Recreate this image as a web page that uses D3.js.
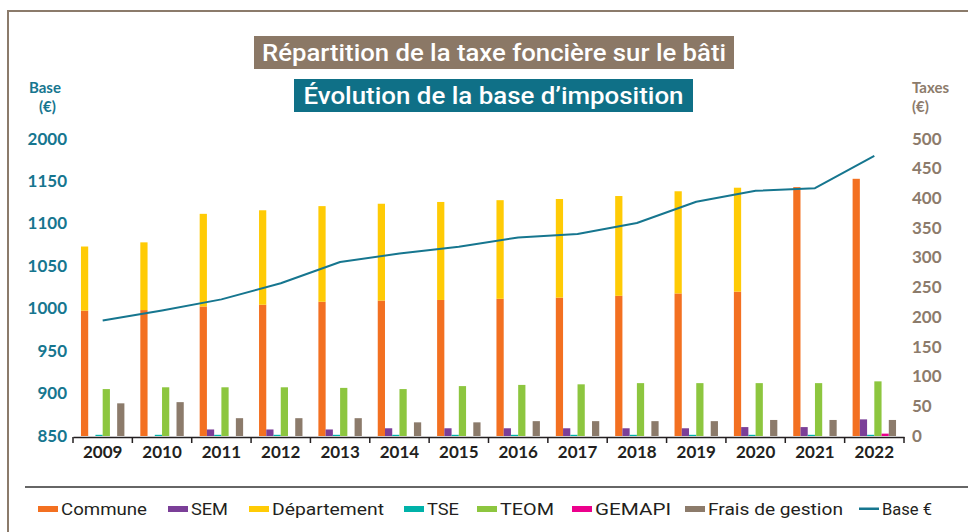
<!DOCTYPE html>
<html>
<head>
<meta charset="utf-8">
<script src="https://cdn.jsdelivr.net/npm/d3@7"></script>
<style>
  body { margin: 0; background: #fff; }
  svg { display: block; }
</style>
</head>
<body>
<script>
const W = 968, H = 532;

// data
const years = ['2009','2010','2011','2012','2013','2014','2015','2016','2017','2018','2019','2020','2021','2022'];
const commune     = [211, 212, 218, 221, 226, 228, 229, 231, 233, 236, 240, 243, 419, 433];
const departement = [108, 114, 156, 159, 161, 163, 165, 166, 166, 168, 172, 175, 0, 0];
const sem         = [0, 0, 11, 11, 11, 13, 13, 13, 13, 13, 13, 15, 15, 28];
const tse         = [2, 2, 2, 2, 2, 2, 2, 2, 2, 2, 2, 2, 2, 2];
const teom        = [79, 82, 82, 82, 81, 79, 84, 86, 87, 89, 89, 89, 89, 92];
const gemapi      = [0, 0, 0, 0, 0, 0, 0, 0, 0, 0, 0, 0, 0, 4];
const frais       = [55, 57, 30, 30, 30, 23, 23, 25, 25, 25, 25, 27, 27, 27];
const base        = [986, 998, 1011, 1030, 1055, 1065, 1073, 1084, 1088, 1101, 1126, 1139, 1142, 1180];

const baseTicks = [850, 900, 950, 1000, 1050, 1100, 1150, 1200];
const baseTickLabels = ['850','900','950','1000','1050','1100','1150','2000'];
const taxTicks = [0, 50, 100, 150, 200, 250, 300, 350, 400, 450, 500];

const legendItems = [
  {name: 'Commune', color: '#f37021'},
  {name: 'SEM', color: '#7b3f98'},
  {name: 'Département', color: '#ffcb05'},
  {name: 'TSE', color: '#00b2a9'},
  {name: 'TEOM', color: '#8dc63f'},
  {name: 'GEMAPI', color: '#ec008c'},
  {name: 'Frais de gestion', color: '#8c7b6b'},
  {name: 'Base €', color: '#16768f', line: true}
];
const col = {};
legendItems.forEach(d => col[d.name] = d.color);

const svg = d3.select('body').append('svg').attr('width', W).attr('height', H);

// frame
svg.append('path')
  .attr('d', `M8,${H} V11 H${W}`)
  .attr('fill', 'none').attr('stroke', '#8b7b6b').attr('stroke-width', 2);

// title boxes
const titles = [
  {text: 'Répartition de la taxe foncière sur le bâti', x: 254, y: 36, w: 480, h: 33, bg: '#8b7866', tl: 464},
  {text: 'Évolution de la base d’imposition', x: 294, y: 79, w: 399, h: 33, bg: '#0f7087', tl: 380}
];
titles.forEach(t => {
  svg.append('rect').attr('x', t.x).attr('y', t.y).attr('width', t.w).attr('height', t.h).attr('fill', t.bg);
  svg.append('text')
    .attr('x', t.x + t.w / 2).attr('y', t.y + t.h / 2 + 8)
    .attr('text-anchor', 'middle')
    .attr('font-family', 'Roboto, sans-serif').attr('font-size', 24).attr('font-weight', 500)
    .attr('fill', '#fff')
    .attr('textLength', t.tl).attr('lengthAdjust', 'spacingAndGlyphs')
    .text(t.text);
});

// axis unit labels
const unitFont = 'Lato, sans-serif';
[['Base', 29, 93, '#16768f'], ['(€)', 39, 112, '#16768f'], ['Taxes', 912, 93, '#8c7b6b'], ['(€)', 912, 112, '#8c7b6b']]
  .forEach(([t, x, y, c]) => {
    svg.append('text').attr('x', x).attr('y', y).attr('fill', c)
      .attr('font-family', unitFont).attr('font-size', 15).attr('font-weight', 700).text(t);
  });

// scales
const x0 = 73, x1 = 904, yBottom = 436, yTop = 139;
const x = d3.scaleBand().domain(years).range([x0, x1]).padding(0);
const slots = ['Commune', 'SEM', 'TSE', 'TEOM', 'GEMAPI', 'Frais de gestion'];
const xs = d3.scaleBand().domain(slots).range([0, x.bandwidth()]).paddingInner(0).paddingOuter(1.1);
const yTax = d3.scaleLinear().domain([0, 500]).range([yBottom, yTop]);
const yBase = d3.scaleLinear().domain([850, 1200]).range([yBottom, yTop]);

// left axis
const leftAxis = svg.append('g').attr('transform', 'translate(67,0)')
  .call(d3.axisLeft(yBase).tickValues(baseTicks).tickFormat((d, i) => baseTickLabels[i]).tickSize(0).tickPadding(0));
leftAxis.select('.domain').remove();
leftAxis.selectAll('text').attr('font-family', unitFont).attr('font-size', 17).attr('font-weight', 700)
  .attr('fill', '#16768f').attr('dy', '0.3em');

// right axis
const rightAxis = svg.append('g').attr('transform', 'translate(912,0)')
  .call(d3.axisRight(yTax).tickValues(taxTicks).tickSize(0).tickPadding(0));
rightAxis.select('.domain').remove();
rightAxis.selectAll('text').attr('font-family', unitFont).attr('font-size', 17).attr('font-weight', 700)
  .attr('fill', '#8c7b6b').attr('dy', '0.3em');

// bars
const rows = years.map((y, i) => ({
  year: y,
  segs: [
    {k: 'Commune', slot: 'Commune', y0: 0, y1: commune[i]},
    {k: 'Département', slot: 'Commune', y0: commune[i], y1: commune[i] + departement[i]},
    {k: 'SEM', slot: 'SEM', y0: 0, y1: sem[i]},
    {k: 'TSE', slot: 'TSE', y0: 0, y1: tse[i]},
    {k: 'TEOM', slot: 'TEOM', y0: 0, y1: teom[i]},
    {k: 'GEMAPI', slot: 'GEMAPI', y0: 0, y1: gemapi[i]},
    {k: 'Frais de gestion', slot: 'Frais de gestion', y0: 0, y1: frais[i]}
  ].filter(s => s.y1 > s.y0)
}));

const groups = svg.append('g').selectAll('g').data(rows).enter().append('g')
  .attr('transform', d => `translate(${x(d.year)},0)`);
groups.selectAll('rect').data(d => d.segs).enter().append('rect')
  .attr('x', d => xs(d.slot))
  .attr('width', xs.bandwidth())
  .attr('y', d => yTax(d.y1))
  .attr('height', d => yTax(d.y0) - yTax(d.y1))
  .attr('fill', d => col[d.k]);

// x axis
const xAxis = svg.append('g').attr('transform', `translate(0,${yBottom + 1})`)
  .call(d3.axisBottom(x).tickSize(0).tickPadding(9));
xAxis.select('.domain').attr('stroke', '#231f20').attr('stroke-width', 1.5);
xAxis.selectAll('text').attr('font-family', unitFont).attr('font-size', 17).attr('font-weight', 700)
  .attr('fill', '#231f20').attr('dy', '0.72em');
xAxis.append('g').selectAll('line').data(years.concat(['end'])).enter().append('line')
  .attr('x1', (d, i) => x0 + i * x.step()).attr('x2', (d, i) => x0 + i * x.step())
  .attr('y1', 0).attr('y2', 6).attr('stroke', '#231f20').attr('stroke-width', 1.5);

// base line
const line = d3.line()
  .x((d, i) => x(years[i]) + x.bandwidth() / 2)
  .y(d => yBase(d));
svg.append('path').datum(base).attr('d', line)
  .attr('fill', 'none').attr('stroke', '#16768f').attr('stroke-width', 2)
  .attr('stroke-linejoin', 'round');

// legend
svg.append('line').attr('x1', 25).attr('x2', W).attr('y1', 487).attr('y2', 487)
  .attr('stroke', '#333').attr('stroke-width', 1.5);
const legendX = [38, 168, 249, 404, 477, 572, 685, 859];
const lg = svg.append('g').selectAll('g').data(legendItems).enter().append('g')
  .attr('transform', (d, i) => `translate(${legendX[i]},509)`);
lg.append('rect')
  .attr('x', 0).attr('y', d => d.line ? -1.5 : -3).attr('width', 20).attr('height', d => d.line ? 2.5 : 6)
  .attr('fill', d => d.color);
lg.append('text').attr('x', 23).attr('y', 6)
  .attr('font-family', 'Roboto, sans-serif').attr('font-size', 17)
  .attr('fill', '#231f20')
  .text(d => d.name)
  .each(function(d, i) {
    const widths = [86, 37, 112, 32, 54, 76, 135, 50];
    d3.select(this).attr('textLength', widths[i]).attr('lengthAdjust', 'spacingAndGlyphs');
  });
</script>
</body>
</html>
